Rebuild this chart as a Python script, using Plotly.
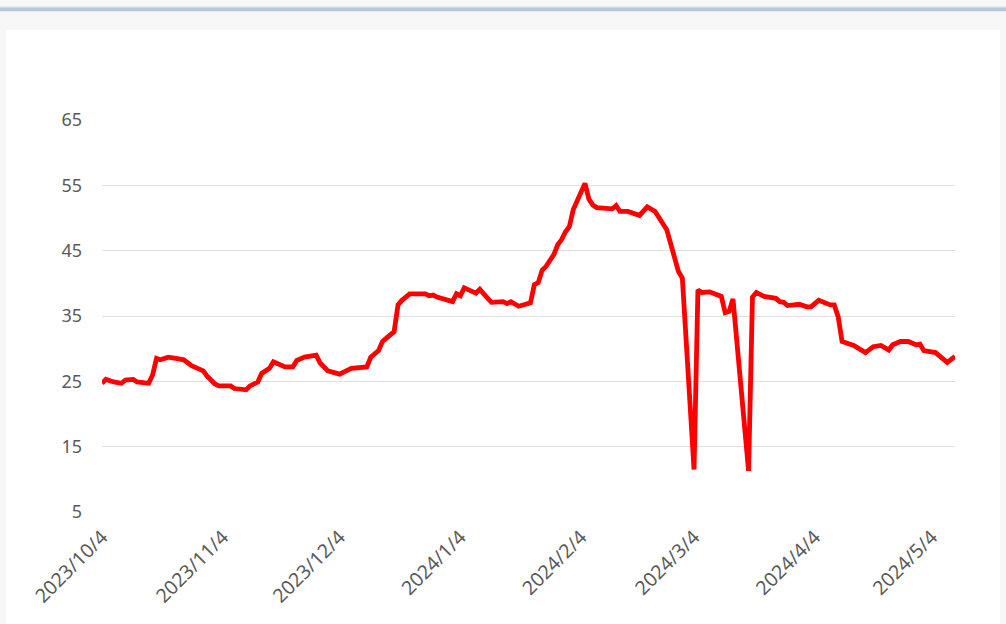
import plotly.graph_objects as go

# daily readings (calendar dates) and values
dates = [
    "2023-10-04", "2023-10-05", "2023-10-07", "2023-10-09", "2023-10-10", "2023-10-12", "2023-10-13",
    "2023-10-16", "2023-10-17", "2023-10-18", "2023-10-19", "2023-10-21", "2023-10-23", "2023-10-25",
    "2023-10-27", "2023-10-30", "2023-10-31",
    "2023-11-02", "2023-11-03", "2023-11-06", "2023-11-07", "2023-11-10", "2023-11-11", "2023-11-13",
    "2023-11-14", "2023-11-16", "2023-11-17", "2023-11-20", "2023-11-22", "2023-11-23", "2023-11-25",
    "2023-11-28", "2023-11-29",
    "2023-12-01", "2023-12-04", "2023-12-07", "2023-12-11", "2023-12-12", "2023-12-14", "2023-12-15",
    "2023-12-18", "2023-12-19", "2023-12-20", "2023-12-22", "2023-12-26", "2023-12-27", "2023-12-28",
    "2023-12-29",
    "2024-01-02", "2024-01-03", "2024-01-04", "2024-01-05", "2024-01-08", "2024-01-09", "2024-01-10",
    "2024-01-12", "2024-01-15", "2024-01-16", "2024-01-17", "2024-01-19", "2024-01-22", "2024-01-23",
    "2024-01-24", "2024-01-25", "2024-01-26", "2024-01-28", "2024-01-29", "2024-01-30", "2024-01-31",
    "2024-02-01", "2024-02-02", "2024-02-05", "2024-02-06", "2024-02-07", "2024-02-08", "2024-02-12",
    "2024-02-13", "2024-02-14", "2024-02-16", "2024-02-19", "2024-02-21", "2024-02-23", "2024-02-26",
    "2024-02-27", "2024-02-28", "2024-02-29",
    "2024-03-01", "2024-03-04", "2024-03-05", "2024-03-06", "2024-03-08", "2024-03-11", "2024-03-12",
    "2024-03-13", "2024-03-14", "2024-03-18", "2024-03-19", "2024-03-20", "2024-03-22", "2024-03-25",
    "2024-03-26", "2024-03-27", "2024-03-28", "2024-03-31",
    "2024-04-02", "2024-04-03", "2024-04-05", "2024-04-08", "2024-04-09", "2024-04-10", "2024-04-11",
    "2024-04-14", "2024-04-17", "2024-04-19", "2024-04-21", "2024-04-23", "2024-04-24", "2024-04-26",
    "2024-04-28", "2024-04-30",
    "2024-05-01", "2024-05-02", "2024-05-05", "2024-05-07", "2024-05-08", "2024-05-10",
]

values = [
    24.7, 25.3, 24.9, 24.7, 25.2, 25.3, 24.9, 24.7, 26.0, 28.5, 28.3, 28.7, 28.5, 28.3, 27.4, 26.6, 25.8,
    24.6, 24.3, 24.3, 23.9, 23.7, 24.3, 24.9, 26.2, 27.0, 28.0, 27.2, 27.2, 28.2, 28.7, 29.0, 27.8,
    26.6, 26.1, 27.0, 27.2, 28.7, 29.7, 31.1, 32.6, 36.7, 37.4, 38.4, 38.4, 38.1, 38.2, 37.9,
    37.2, 38.4, 38.1, 39.3, 38.5, 39.1, 38.4, 37.1, 37.2, 36.9, 37.2, 36.5, 37.0, 39.8, 40.1, 42.0,
    42.6, 44.4, 45.9, 46.7, 47.9,
    48.7, 51.3, 55.3, 52.9, 52.0, 51.6, 51.4, 51.9, 51.0, 51.0, 50.4, 51.7, 51.0, 48.2, 46.1, 44.4, 41.8,
    40.8, 11.5, 39.0, 38.6, 38.7, 38.0, 35.5, 35.7, 37.6, 11.3, 37.9, 38.6, 38.0, 37.7, 37.2, 37.1,
    36.6, 36.8,
    36.4, 36.4, 37.4, 36.7, 36.7, 34.9, 31.1, 30.5, 29.4, 30.3, 30.5, 29.8, 30.6, 31.1, 31.1, 30.6,
    30.7, 29.7, 29.4, 28.5, 27.9, 28.8,
]

tick_dates = ["2023-10-04", "2023-11-04", "2023-12-04", "2024-01-04",
              "2024-02-04", "2024-03-04", "2024-04-04", "2024-05-04"]
y_ticks = [5, 15, 25, 35, 45, 55, 65]

fig = go.Figure()
fig.add_trace(go.Scatter(x=dates, y=values, mode="lines",
                         line=dict(color="#ff0000", width=4.8), showlegend=False))

# page frame: top rule and white card
fig.add_shape(type="rect", xref="paper", yref="paper", x0=-0.1125, x1=1.0528, y0=-0.32, y1=1.2296,
              fillcolor="white", line_width=0, layer="below")
fig.add_shape(type="line", xref="paper", yref="paper", x0=-0.2, x1=1.2, y0=1.2824, y1=1.2824,
              line=dict(color="#b2c8db", width=4), layer="below")
fig.add_shape(type="line", xref="paper", yref="paper", x0=-0.2, x1=1.2, y0=1.2885, y1=1.2885,
              line=dict(color="#e4e4e4", width=1), layer="below")

fig.update_layout(
    width=1006, height=624, autosize=False,
    margin=dict(l=102, r=51, t=120, b=112),
    paper_bgcolor="#f7f7f7", plot_bgcolor="white",
    font=dict(family="Noto Sans", size=18, color="#5a5a5a"),
    xaxis=dict(range=["2023-10-04", "2024-05-10"], tickvals=tick_dates, tickformat="%Y/%-m/%-d",
               tickangle=-45, showgrid=False, zeroline=False, showline=False, ticks="",
               ticklabelstandoff=9, tickfont=dict(size=19.5)),
    yaxis=dict(range=[5, 65], tickvals=y_ticks, showgrid=True, gridcolor="#e0e0e0", gridwidth=1,
               zeroline=False, showline=False, ticks="", ticklabelstandoff=19),
)

fig.write_html("out.html", config={"displayModeBar": False},
               post_script="document.body.style.margin='0';")
